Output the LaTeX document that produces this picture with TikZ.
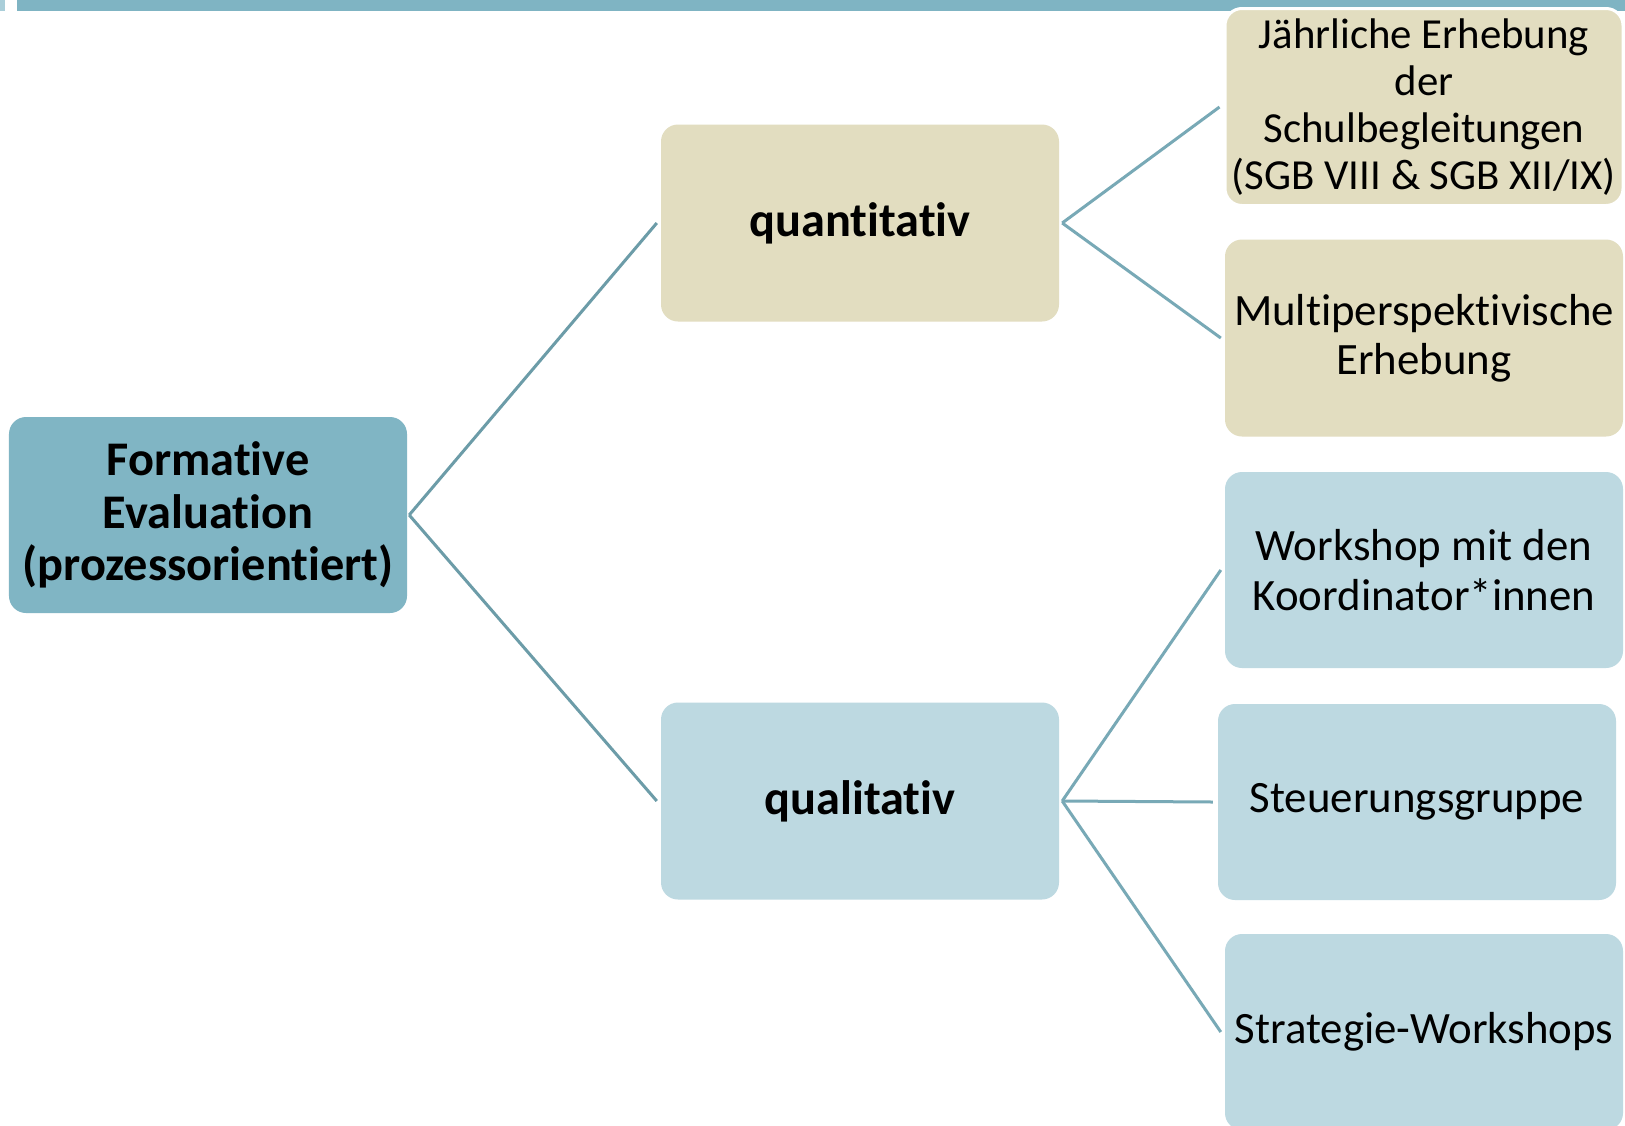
\documentclass[tikz,border=0pt]{standalone}
\usepackage{fontspec}
\setmainfont{Carlito}[Ligatures=NoCommon]
\definecolor{bandblue}{HTML}{7FB4C3}
\definecolor{lightband}{HTML}{A9CED9}
\definecolor{rootfill}{HTML}{80B5C4}
\definecolor{beige}{HTML}{E2DDC0}
\definecolor{paleblue}{HTML}{BDD9E1}
\definecolor{lineA}{HTML}{6C9CA8}
\definecolor{lineB}{HTML}{78A9B6}
\tikzset{
  box/.style={rectangle, rounded corners=17bp, inner sep=0pt, align=center, text=black},
  rootbox/.style={box, fill=rootfill, font=\fontsize{48.5}{53}\selectfont\bfseries},
  midq/.style={box, fill=beige, font=\fontsize{48.5}{53}\selectfont\bfseries},
  midl/.style={box, fill=paleblue, font=\fontsize{48.5}{53}\selectfont\bfseries},
  leafq/.style={box, fill=beige, font=\fontsize{45}{49}\selectfont},
  leafsmall/.style={box, fill=beige, font=\fontsize{43}{47}\selectfont},
  leafl/.style={box, fill=paleblue, font=\fontsize{45}{49.5}\selectfont},
  conA/.style={draw=lineA, line width=3bp},
  conB/.style={draw=lineB, line width=3bp},
}
\begin{document}
\begin{tikzpicture}[x=1bp,y=-1bp]
\useasboundingbox (0,0) rectangle (1625,1125);
\fill[white] (0,0) rectangle (1625,1125);
% top band
\fill[lightband] (0,0) rectangle (5,11);
\fill[bandblue] (17,0) rectangle (1625,11);
% nodes
\node[rootbox, minimum width=398bp, minimum height=196bp] (root) at (208,515) {Formative\\Evaluation\\(prozessorientiert)};
\node[midq, minimum width=398bp, minimum height=197bp] (quant) at (860,223) {quantitativ};
\node[midl, minimum width=398bp, minimum height=197bp] (qual) at (860,801) {qualitativ};
\node[leafsmall, minimum width=398bp, minimum height=197bp, draw=white, line width=3bp] (jahr) at (1424,107) {\rule{0pt}{6bp}Jährliche Erhebung\\der\\Schulbegleitungen\\(SGB VIII \& SGB XII/IX)};
\node[leafq, minimum width=398bp, minimum height=197bp] (multi) at (1424,338) {Multiperspektivische\\Erhebung};
\node[leafl, minimum width=398bp, minimum height=196bp] (work) at (1424,570) {Workshop mit den\\Koordinator*innen};
\node[leafl, minimum width=398bp, minimum height=196bp] (steu) at (1417,802) {Steuerungsgruppe};
\node[leafl, minimum width=398bp, minimum height=196bp] (strat) at (1424,1032) {Strategie-Workshops};
% connectors
\draw[conA] ([xshift=2bp]root.east) -- ([xshift=-4bp]quant.west);
\draw[conA] ([xshift=2bp]root.east) -- ([xshift=-4bp]qual.west);
\draw[conB] ([xshift=3bp]quant.east) -- ([xshift=-4bp]jahr.west);
\draw[conB] ([xshift=3bp]quant.east) -- ([xshift=-4bp]multi.west);
\draw[conB] ([xshift=3bp]qual.east) -- ([xshift=-4bp]work.west);
\draw[conB] ([xshift=3bp]qual.east) -- ([xshift=-5bp]steu.west);
\draw[conB] ([xshift=3bp]qual.east) -- ([xshift=-4bp]strat.west);
\end{tikzpicture}
\end{document}
